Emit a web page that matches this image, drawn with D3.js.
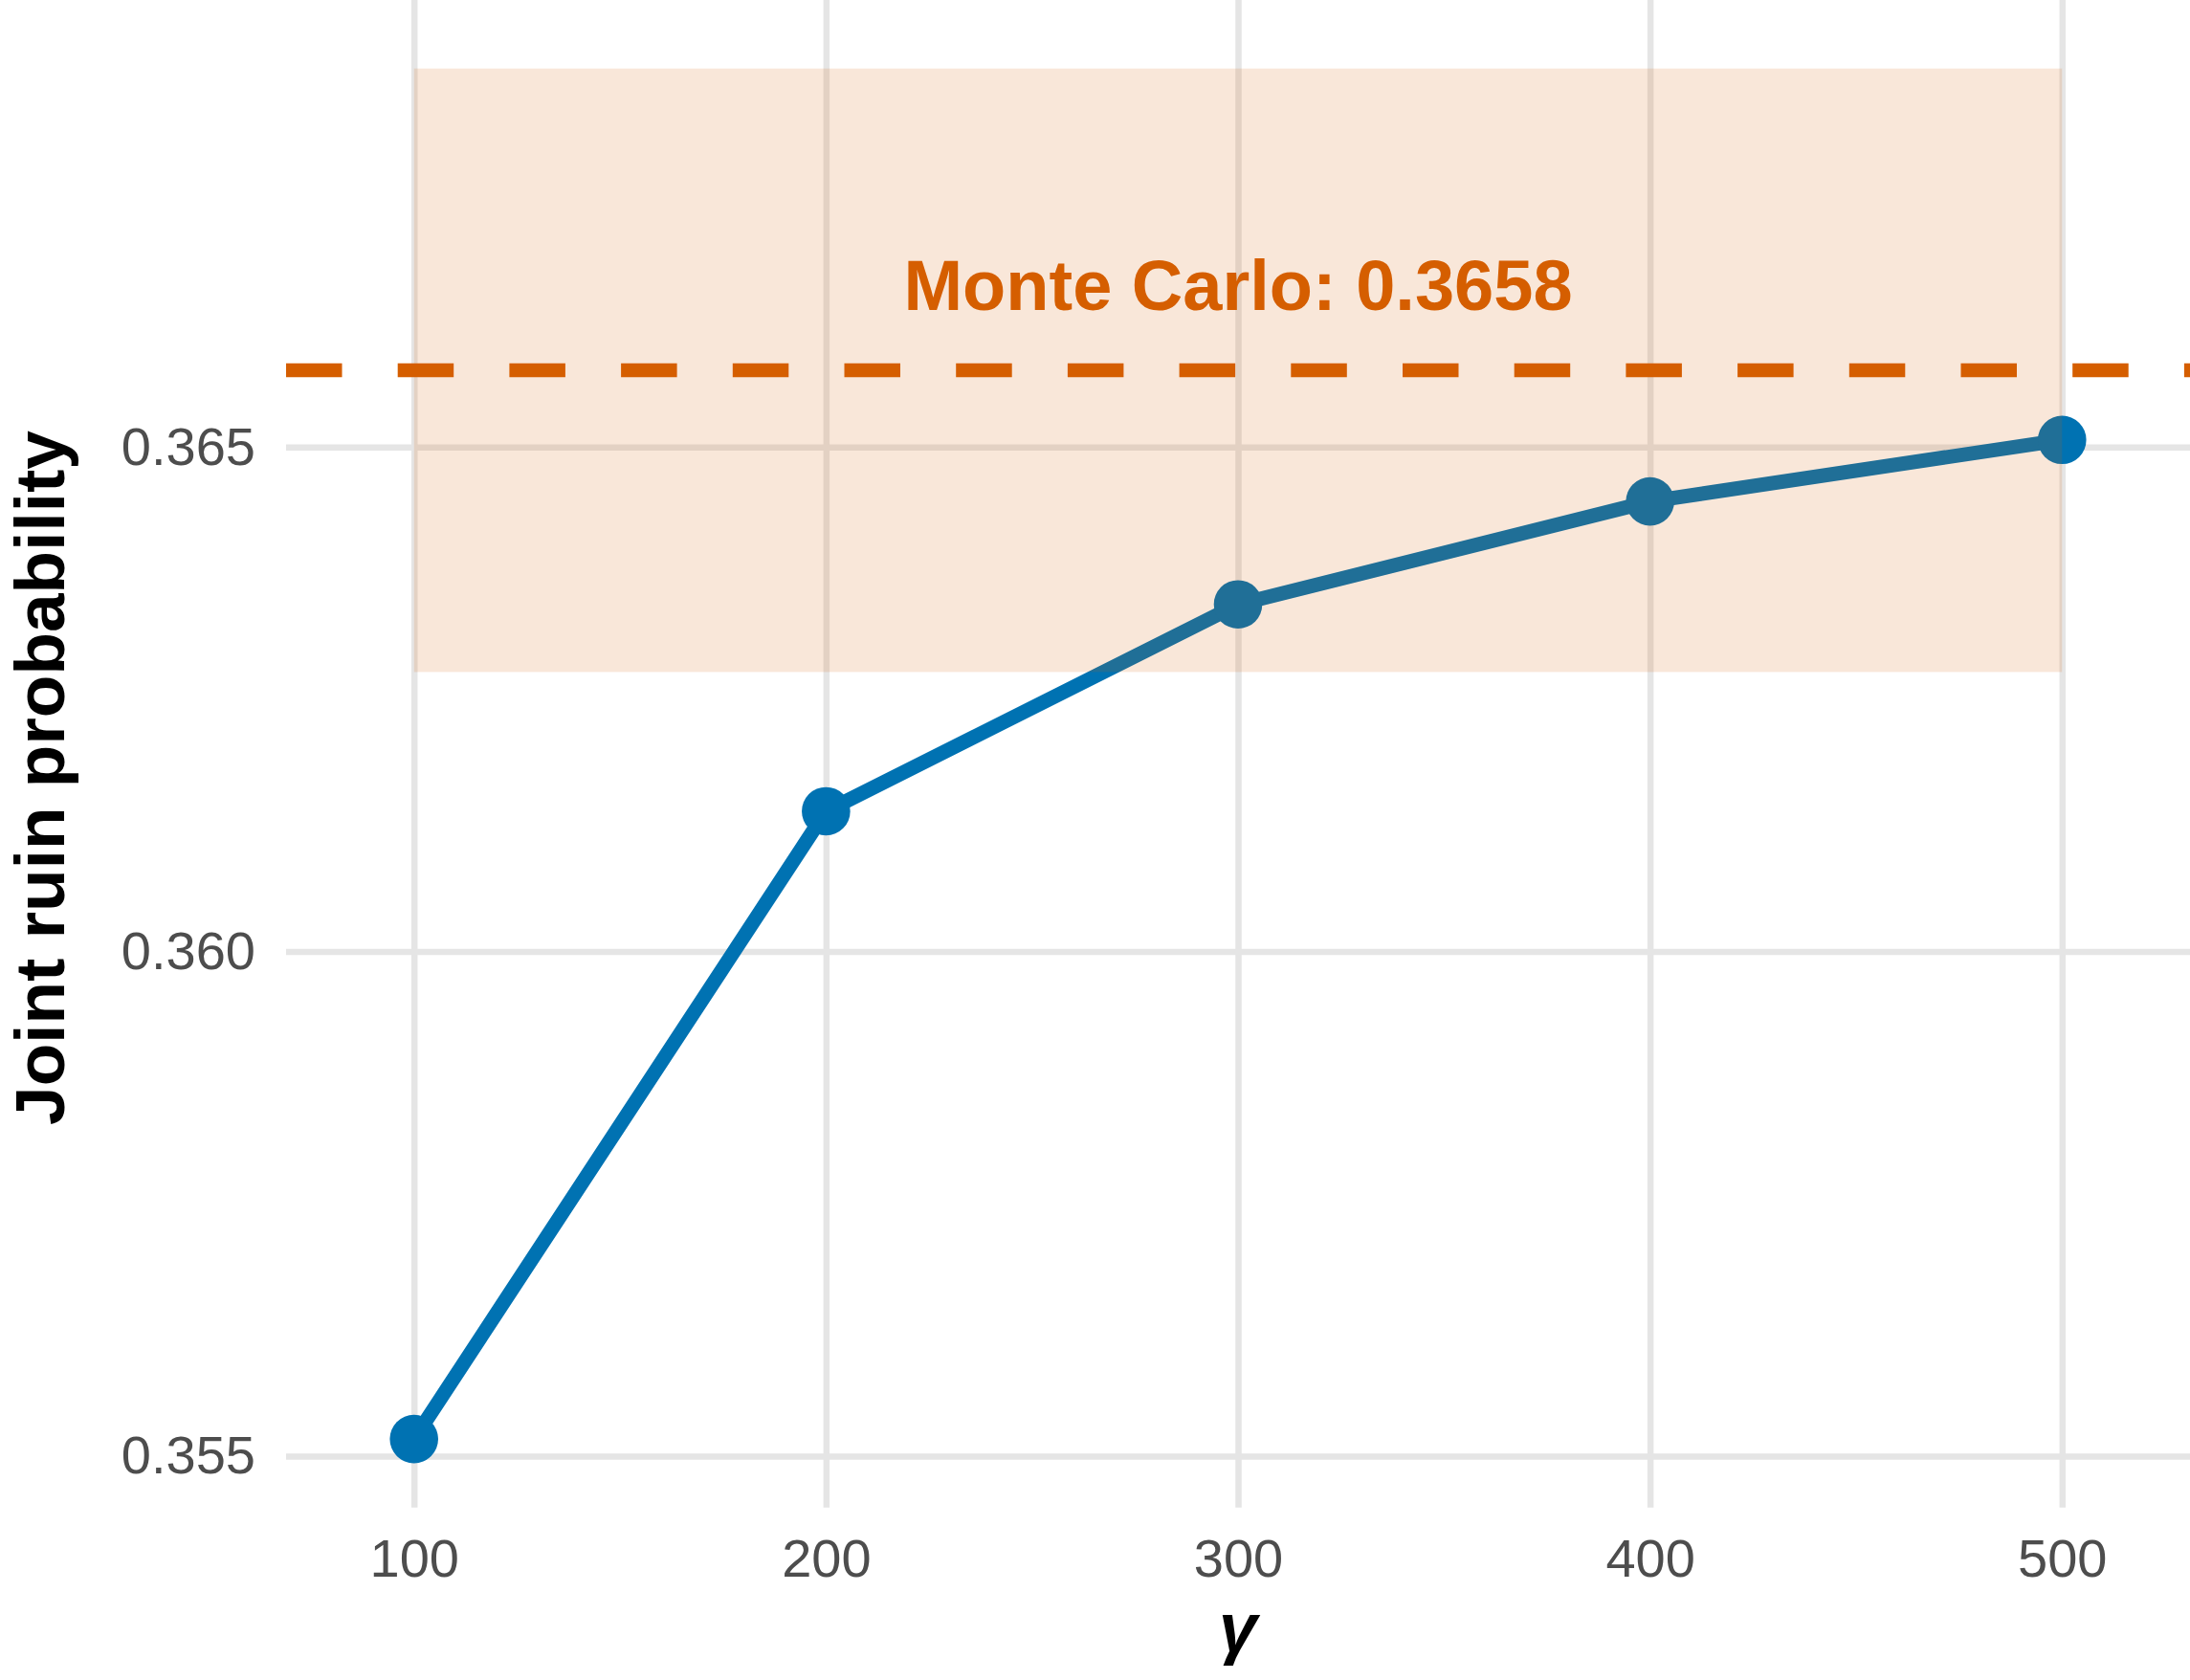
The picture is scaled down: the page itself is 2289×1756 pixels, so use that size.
<!DOCTYPE html>
<html>
<head>
<meta charset="utf-8">
<script src="https://cdn.jsdelivr.net/npm/d3@7"></script>
<style>
  html, body { margin: 0; padding: 0; background: #fff; }
  svg { display: block; font-family: "Liberation Sans", Arial, Helvetica, sans-serif; }
</style>
</head>
<body>
<script>
// ---- data ----
const gammaValues = [100, 200, 300, 400, 500];
const ruinProbability = [0.35517, 0.36139, 0.36344, 0.36446, 0.36507];
const monteCarloEstimate = 0.36576;
const monteCarloLower = 0.36277;
const monteCarloUpper = 0.36875;
const monteCarloLabel = "Monte Carlo: 0.3658";
const xTicks = [100, 200, 300, 400, 500];
const yTicks = [0.355, 0.360, 0.365];
const xTitle = "γ";
const yTitle = "Joint ruin probability";

// ---- layout ----
const W = 2289, H = 1756;
const panel = { left: 299, right: 2289, top: 0, bottom: 1575.7 };
const blue = "#0072B2", orange = "#D55E00";

const svg = d3.select("body").append("svg")
  .attr("width", W).attr("height", H);

const x = d3.scaleLinear().domain([68.95, 531.05]).range([panel.left, panel.right]);
const yLo = d3.min([...ruinProbability, monteCarloLower]);
const yHi = d3.max([...ruinProbability, monteCarloUpper]);
const yPad = (yHi - yLo) * 0.05;
const y = d3.scaleLinear().domain([yLo - yPad, yHi + yPad]).range([panel.bottom, panel.top]);

// gridlines (via axes)
const gridColor = "#E5E5E5";
const gx = svg.append("g").attr("transform", `translate(0,${panel.bottom})`)
  .call(d3.axisBottom(x).tickValues(xTicks).tickSize(-(panel.bottom - panel.top)).tickFormat(""));
gx.select(".domain").remove();
gx.selectAll("line").attr("stroke", gridColor).attr("stroke-width", 6.5);

const gy = svg.append("g").attr("transform", `translate(${panel.left},0)`)
  .call(d3.axisLeft(y).tickValues(yTicks).tickSize(-(panel.right - panel.left)).tickFormat(""));
gy.select(".domain").remove();
gy.selectAll("line").attr("stroke", gridColor).attr("stroke-width", 6.5);

// series line
const pts = gammaValues.map((g, i) => ({ g, p: ruinProbability[i] }));
svg.append("path").datum(pts)
  .attr("fill", "none").attr("stroke", blue).attr("stroke-width", 15)
  .attr("stroke-linejoin", "round")
  .attr("d", d3.line().x(d => x(d.g)).y(d => y(d.p)));

svg.append("g").selectAll("circle").data(pts).join("circle")
  .attr("cx", d => x(d.g)).attr("cy", d => y(d.p)).attr("r", 25.3)
  .attr("fill", blue);

// Monte Carlo band (drawn over the line, translucent)
svg.append("rect")
  .attr("x", x(gammaValues[0]))
  .attr("width", x(gammaValues[gammaValues.length - 1]) - x(gammaValues[0]))
  .attr("y", y(monteCarloUpper))
  .attr("height", y(monteCarloLower) - y(monteCarloUpper))
  .attr("fill", orange).attr("fill-opacity", 0.15);

// Monte Carlo dashed line
svg.append("line")
  .attr("x1", panel.left).attr("x2", panel.right)
  .attr("y1", y(monteCarloEstimate)).attr("y2", y(monteCarloEstimate))
  .attr("stroke", orange).attr("stroke-width", 14.7)
  .attr("stroke-dasharray", "58.5 58.2");

svg.append("text")
  .attr("x", x(300)).attr("y", y(monteCarloEstimate) - 63)
  .attr("text-anchor", "middle")
  .attr("font-size", 74).attr("font-weight", "bold")
  .attr("fill", orange)
  .text(monteCarloLabel);

// axes labels
const ax = svg.append("g").attr("transform", `translate(0,${panel.bottom})`)
  .call(d3.axisBottom(x).tickValues(xTicks).tickSize(0).tickPadding(33).tickFormat(d3.format("d")));
ax.select(".domain").remove();
ax.selectAll("text").attr("font-size", 56).attr("fill", "#4D4D4D")
  .attr("font-family", "Liberation Sans, Arial, sans-serif");

const ay = svg.append("g").attr("transform", `translate(${panel.left},0)`)
  .call(d3.axisLeft(y).tickValues(yTicks).tickSize(0).tickPadding(32).tickFormat(d3.format(".3f")));
ay.select(".domain").remove();
ay.selectAll("text").attr("font-size", 56).attr("fill", "#4D4D4D")
  .attr("font-family", "Liberation Sans, Arial, sans-serif");

// titles
svg.append("text")
  .attr("x", x(300)).attr("y", 1726)
  .attr("text-anchor", "middle")
  .attr("font-size", 72).attr("font-weight", "bold").attr("font-style", "italic")
  .attr("fill", "#000")
  .text(xTitle);

svg.append("text")
  .attr("transform", `translate(67,813) rotate(-90)`)
  .attr("text-anchor", "middle")
  .attr("font-size", 73).attr("font-weight", "bold")
  .attr("fill", "#000")
  .text(yTitle);
</script>
</body>
</html>
